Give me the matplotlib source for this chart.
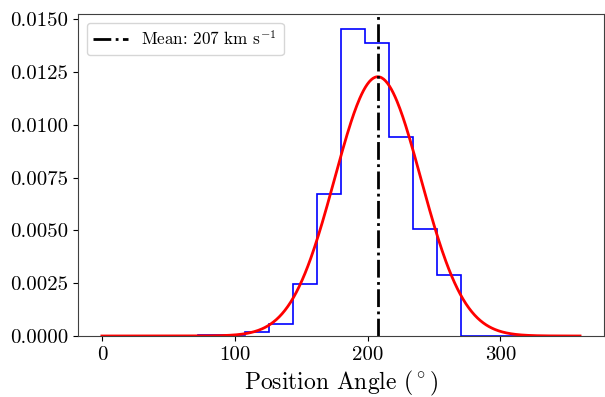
import numpy as np
import matplotlib
matplotlib.use("Agg")
import matplotlib.pyplot as plt
from matplotlib.ticker import FormatStrFormatter

plt.rcParams['font.family'] = 'serif'
plt.rcParams['font.serif'] = ['cmr10']
plt.rcParams['mathtext.fontset'] = 'cm'
plt.rcParams['axes.unicode_minus'] = False

# histogram (density), 20 bins over 0-360 deg
bin_edges = np.linspace(0, 360, 21)
densities = [0, 0, 0, 0, 0.00006, 0.00006, 0.00019, 0.00055, 0.00245, 0.00672,
             0.01452, 0.01385, 0.0094, 0.00508, 0.00288, 0, 0, 0, 0, 0]

# gaussian fit
mean_pa = 207.7
sigma_pa = 32.5

fig = plt.figure(figsize=(6.05, 3.97), dpi=100)
ax = fig.add_axes([0.1289, 0.1537, 0.8694, 0.811])

centres = 0.5 * (bin_edges[:-1] + bin_edges[1:])
ax.hist(centres, bins=bin_edges, weights=densities, histtype='step', color='blue', lw=1.2)

x = np.linspace(0, 360, 500)
g = np.exp(-0.5 * ((x - mean_pa) / sigma_pa) ** 2) / (np.sqrt(2 * np.pi) * sigma_pa)
ax.plot(x, g, color='red', lw=2)

ax.axvline(mean_pa, color='black', ls='-.', lw=2,
           label=r'Mean: %d km s$^{-1}$' % int(mean_pa))

ax.yaxis.set_major_formatter(FormatStrFormatter('%.4f'))
ax.set_yticks(np.arange(0, 0.0151, 0.0025))
ax.set_xticks([0, 100, 200, 300])
ax.tick_params(labelsize=15)
ax.set_xlabel(r'Position Angle (${}^\circ$)', fontsize=17, labelpad=4)
for s in ax.spines.values():
    s.set_color('0.25')

ax.legend(loc='upper left', fontsize=12.3)

fig.savefig('out.png', dpi=100)
